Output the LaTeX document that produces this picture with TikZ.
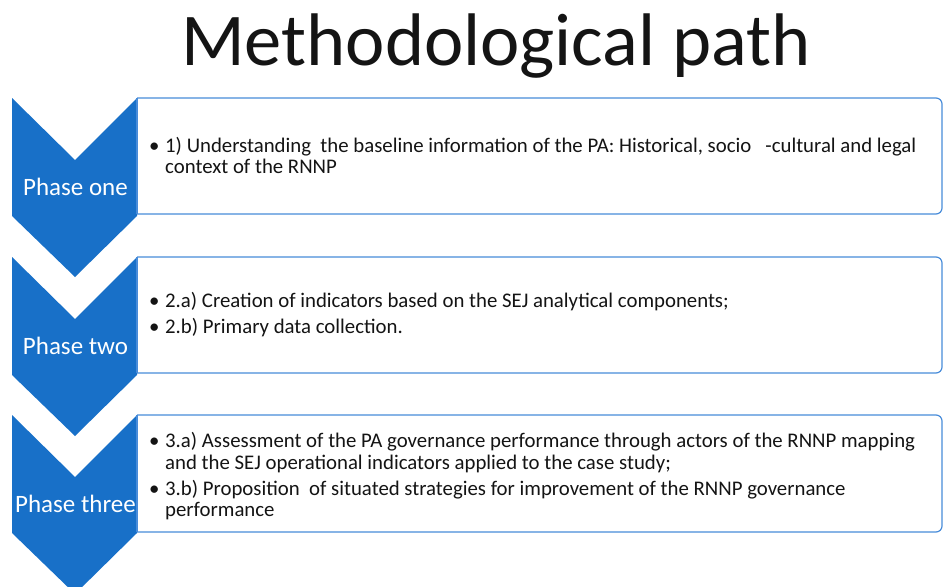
\documentclass[tikz,border=0pt]{standalone}
\usepackage{fontspec}
\setmainfont{Carlito}
\definecolor{chev}{RGB}{24,112,200}
\definecolor{boxline}{RGB}{72,140,218}
\definecolor{txt}{RGB}{20,20,20}
\begin{document}
\begin{tikzpicture}[x=1pt,y=-1pt,
  chevron/.style={fill=chev,draw=none},
  phasebox/.style={draw=boxline,line width=1.2pt,fill=white},
  phaselabel/.style={text=white,font=\fontsize{25}{30}\selectfont,inner sep=0pt,anchor=base},
  bullet/.style={font=\fontsize{20.8}{21.5}\selectfont,text=txt,inner sep=0pt,anchor=base west},
  item/.style={font=\fontsize{20.8}{21.5}\selectfont,text=txt,inner sep=0pt,anchor=base west,align=left}]
\useasboundingbox (0,0) rectangle (944,586);
\fill[white] (0,0) rectangle (944,586);
\node[font=\fontsize{74.5}{80}\selectfont,text=txt,inner sep=0pt,anchor=base] (title) at (496,65) {Methodological path};
% chevrons
\foreach \t [count=\i] in {98,257,415}{
  \fill[chevron] (12,\t) -- (75,\t+62) -- (137,\t) -- (137,\t+118) -- (75,\t+179) -- (12,\t+118) -- cycle;
}
% boxes
\foreach \t/\b in {98/214,257/373,415/532}{
  \draw[phasebox,rounded corners=6pt] (137,\t) -- (942,\t) -- (942,\b) -- (137,\b);
  \draw[phasebox] (137,\b) -- (137,\t);
}
\node[phaselabel] (l1) at (75.5,195) {Phase one};
\node[phaselabel] (l2) at (75.5,354) {Phase two};
\node[phaselabel] (l3) at (75.5,512) {Phase three};
% texts (multi-line nodes are placed by the baseline of their last line)
\node[bullet] (b1) at (149,152) {•};
\node[item] (t1) at (165,173.5) {1) Understanding \ the baseline information of the PA: Historical, socio \ \ -cultural and legal\\context of the RNNP};
\node[bullet] (b2a) at (149,307) {•};
\node[item] (t2a) at (165,307) {2.a) Creation of indicators based on the SEJ analytical components;};
\node[bullet] (b2b) at (149,333) {•};
\node[item] (t2b) at (165,333) {2.b) Primary data collection.};
\node[bullet] (b3a) at (149,447.5) {•};
\node[item] (t3a) at (165,469) {3.a) Assessment of the PA governance performance through actors of the RNNP mapping\\and the SEJ operational indicators applied to the case study;};
\node[bullet] (b3b) at (149,495) {•};
\node[item] (t3b) at (165,516.5) {3.b) Proposition \ of situated strategies for improvement of the RNNP governance\\performance};
\end{tikzpicture}
\end{document}
